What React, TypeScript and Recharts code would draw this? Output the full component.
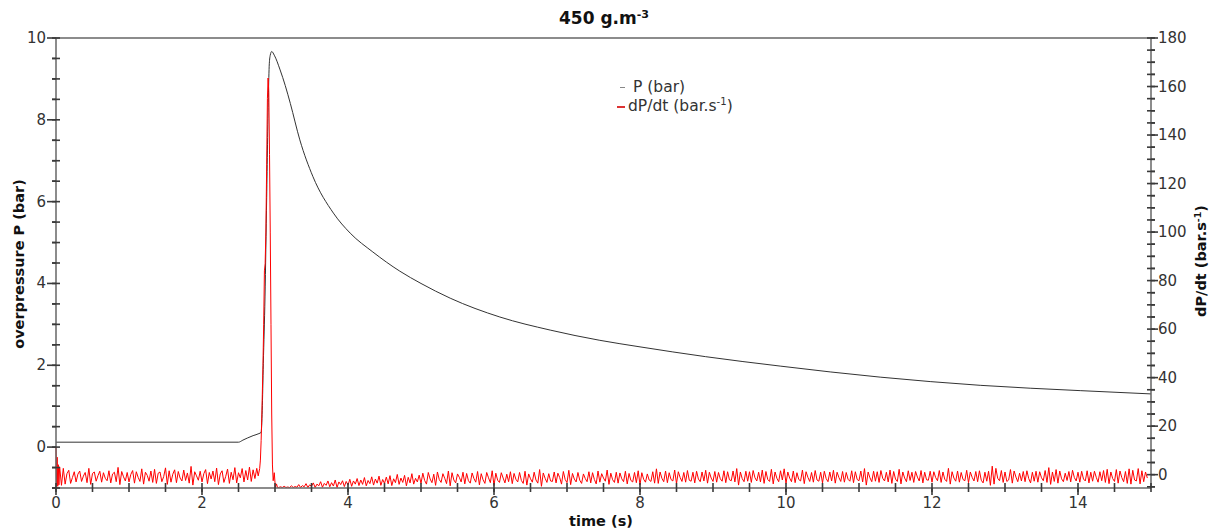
import { LineChart, Line, XAxis, YAxis, ReferenceLine, Legend } from 'recharts'

const FONT = '"DejaVu Sans", Verdana, sans-serif'
const AXIS = '#3a3a3a'
const TEXT = '#333'

// overpressure P (bar) against time (s)
const pTimes = [
  0, 2.5, 2.56, 2.62, 2.7, 2.78, 2.81, 2.825, 2.84, 2.863, 2.886, 2.909, 2.922, 2.935, 2.955, 2.99, 3.07,
  3.14, 3.21, 3.34, 3.52, 3.8, 4.03, 4.34, 4.71, 5.0, 5.4, 6.08, 6.77, 7.45, 8.0, 8.9, 9.92, 11.29, 12.66,
  14.03, 15,
]
const pValues = [
  0.12, 0.12, 0.17, 0.22, 0.28, 0.33, 0.36, 0.9, 2.04, 3.67, 6.1, 8.55, 9.37, 9.58, 9.67, 9.58, 9.22,
  8.84, 8.4, 7.51, 6.61, 5.72, 5.23, 4.77, 4.3, 4.0, 3.64, 3.18, 2.86, 2.61, 2.45, 2.21, 1.98, 1.71, 1.51,
  1.38, 1.3,
]

// dP/dt (bar/s): ignition transient at t=0
const startTimes = [0, 0.008, 0.016, 0.024, 0.032, 0.04]
const startValues = [11.4, -4.6, 7.2, -4.8, 4.1, -4.2]

// sampled baseline, every 0.025 s
const noiseStep = 0.025
const preNoiseStart = 0.05
const preNoise = [
  3.2, -4.4, 2.6, -3.9, 0.4, 1.8, -3.6, -1.2, 1.2, -3.0, 0.2, 1.5, -2.8, -0.6, 0.9, -3.3, 2.6, -4.0, 0.5, 1.1,
  -2.7, -0.4, 1.4, -3.1, 0.8, -1.5, -2.5, 1.6, -3.4, 0.3, 1.0, -2.9, 3.0, -4.1, 1.3, -0.9, -2.6, 0.9, -3.0, 0.1,
  1.7, -3.5, 1.2, -1.1, -2.8, 2.4, -3.9, 1.0, -0.3, -2.7, 1.5, -3.2, 2.2, -3.6, 0.6, 1.1, -2.9, -0.8, 2.8, -4.0,
  1.6, -3.1, 0.2, 2.0, -3.3, 1.3, -1.4, -2.6, 1.9, -2.4, 0.7, -3.5, 3.4, -4.3, 1.2, -0.5, -2.3, 1.4, -3.0, 0.4,
  2.1, -3.7, 0.9, -1.8, 1.5, -2.9, 2.7, -4.1, 0.3, 1.6, -3.2, -0.7, 2.3, -3.6, 1.0, -2.1, 2.9, -3.4, 0.8, -1.3,
  2.5, -3.0, 1.7, -2.2, 3.1, -2.8, 2.0, -1.6, 2.6,
]

// explosion peak
const spikeTimes = [
  2.77, 2.79, 2.8, 2.81, 2.82, 2.835, 2.845, 2.855, 2.865, 2.875, 2.886, 2.896, 2.905, 2.915, 2.925, 2.935,
  2.945, 2.955, 2.965, 2.975, 2.99, 3.005, 3.02, 3.035,
]
const spikeValues = [
  -0.5, 2.5, 6, 14, 25, 45, 62, 84, 87, 100, 128, 155, 163.5, 158, 132, 100,
  62, 25, 4, -2.5, 0.8, -5.3, -3.8, -5.3,
]

const postNoiseStart = 3.05
const postNoise = [
  // 3.05 - 4.0
  -5.3, -5.0, -5.3, -4.8, -5.3, -5.1, -5.3, -4.6, -5.3, -4.9, -5.2, -4.1, -5.3, -4.5, -5.0, -3.7, -5.3, -4.2, -4.8, -3.4,
  -5.3, -3.9, -4.6, -2.9, -5.2, -3.6, -4.4, -2.6, -5.0, -3.3, -4.7, -2.2, -5.3, -3.0, -4.1, -2.5, -4.9, -2.8,
  // 4.0 - 5.0
  -4.3, -1.9, -4.8, -2.6, -3.9, -1.6, -4.5, -2.2, -4.0, -1.2, -4.6, -2.4, -3.7, -0.9, -4.3, -1.8, -3.5, -0.6, -4.4, -2.0,
  -3.6, -1.0, -3.8, -0.4, -4.5, -1.7, -3.3, 0.1, -4.0, -1.4, -3.2, -0.3, -4.6, -1.1, -3.4, 0.4, -3.9, -1.5, -3.0, -0.2,
  // 5.0 - 6.0
  -3.6, 0.6, -2.4, -3.9, 0.9, -1.8, -3.3, 0.2, -4.4, 1.1, -2.0, -3.2, 0.4, -1.5, -3.7, 1.5, -4.6, 0.8, -2.2, -3.4,
  0.3, -1.1, -3.0, 1.0, -3.8, 0.5, -2.5, -3.5, 0.7, -1.6, -3.1, 1.3, -4.2, 0.4, -2.1, -3.6, 0.9, -1.3, -3.3, 1.6,
  // 6.0 - 7.0
  -4.5, 0.6, -2.3, -3.2, 0.8, -1.4, -3.4, 0.2, -2.9, 1.2, -3.7, 0.5, -1.9, -3.0, 0.9, -2.4, -3.6, 1.4, -4.3, 0.3,
  -1.7, -3.1, 1.0, -2.2, -3.5, 2.1, -4.8, 0.7, -1.5, -3.2, 0.4, -2.6, -2.8, 1.1, -3.4, 0.6, -1.2, -3.9, 1.3, -2.0,
  // 7.0 - 8.0
  -3.3, 1.8, -4.1, 0.5, -1.8, -3.0, 0.9, -2.3, -3.6, 0.3, -1.6, -2.9, 1.2, -3.4, 0.8, -2.0, -3.8, 1.5, -3.1, 0.4,
  -1.4, -2.7, 1.9, -4.0, 0.6, -2.1, -3.2, 1.0, -3.5, 0.7, -1.7, -2.9, 1.4, -3.8, 0.5, -2.4, -3.0, 0.9, -3.3, 1.6,
  // 8.0 - 9.0
  -4.2, 0.8, -1.9, -3.1, 0.3, -2.2, -2.8, 1.2, -3.5, 2.4, -3.6, 1.1, -1.5, -2.9, 1.5, -3.3, 0.8, -2.0, -2.6, 1.9,
  -3.7, 1.2, -1.2, -2.8, 0.9, -3.1, 1.7, -2.3, -2.7, 1.0, -3.4, 1.4, -1.8, -2.9, 1.1, -2.6, 1.8, -3.5, 1.0, -1.4,
  // 9.0 - 10.0
  -2.8, 1.3, -3.1, 0.9, -1.7, -2.7, 1.6, -3.3, 1.2, -2.1, -2.5, 1.5, -3.0, 2.5, -4.3, 1.1, -1.6, -2.9, 1.4, -2.7,
  1.2, -3.2, 1.7, -1.3, -2.6, 1.0, -3.0, 1.9, -3.6, 1.3, -2.0, -2.8, 2.2, -3.8, 1.1, -1.5, -2.9, 1.6, -2.2, 2.4,
  // 10.0 - 11.0
  -3.6, 1.1, -1.4, -2.9, 1.5, -3.3, 0.8, -2.0, -2.6, 1.9, -3.7, 1.2, -1.1, -2.8, 0.9, -3.1, 1.7, -2.2, -2.7, 1.0,
  -3.4, 1.4, -1.6, -2.9, 1.1, -2.6, 1.8, -3.5, 1.0, -1.2, -2.8, 1.3, -3.1, 0.9, -1.9, -2.7, 1.6, -3.3, 1.2, -2.0,
  // 11.0 - 12.0
  -2.5, 1.5, -3.0, 2.5, -4.3, 1.1, -1.3, -2.9, 1.4, -2.7, 1.2, -3.2, 1.7, -1.5, -2.6, 1.0, -3.0, 1.9, -3.6, 1.3,
  -1.8, -2.8, 2.2, -3.8, 1.1, -1.4, -2.9, 1.6, -2.4, 1.0, -3.2, 1.3, -1.0, -2.6, 1.7, -3.4, 1.0, -2.1, -2.3, 1.4,
  // 12.0 - 13.0
  -3.1, 1.2, -1.2, -2.5, 1.7, -3.2, 1.1, -1.9, -2.8, 2.6, -3.9, 1.2, -1.4, -2.7, 1.5, -3.1, 0.9, -2.0, -2.5, 1.8,
  -3.3, 1.1, -1.1, -2.6, 1.3, -2.9, 1.6, -2.3, -3.4, 1.0, -2.7, 1.4, -4.4, 3.5, -3.9, 2.6, -1.5, -2.5, 1.7, -3.2,
  // 13.0 - 14.0
  1.1, -2.8, -2.2, 2.1, -3.5, 1.5, -1.0, -2.9, 0.6, -2.6, 1.3, -2.9, 1.6, -1.6, -3.4, 1.0, -2.7, 1.4, -3.1, 1.2,
  -1.3, -2.5, 1.7, -3.2, 2.9, -4.0, 1.1, -2.8, 2.1, -3.5, 1.5, -1.7, -2.9, 0.6, -2.4, 1.3, -3.0, 1.8, -1.2, -2.6,
  // 14.0 - 15.0
  1.0, -3.1, 1.4, -1.8, -2.6, 1.6, -3.4, 1.0, -2.7, 1.4, -1.1, -3.1, 1.2, -2.5, 1.7, -3.2, 2.2, -3.7, 1.1, -1.6,
  -2.8, 2.1, -3.5, 1.5, -1.2, -2.9, 1.3, -3.6, 2.4, -3.9, 1.8, -2.2, -2.6, 2.5, -3.8, 1.6, -2.9, 1.1, -1.4,
]

const pData = pTimes.map((t, i) => ({ t, p: pValues[i] }))
const dpdtData = [
  ...startTimes.map((t, i) => ({ t, v: startValues[i] })),
  ...preNoise.map((v, i) => ({ t: preNoiseStart + i * noiseStep, v })),
  ...spikeTimes.map((t, i) => ({ t, v: spikeValues[i] })),
  ...postNoise.map((v, i) => ({ t: postNoiseStart + i * noiseStep, v })),
]

const steps = (from: number, to: number, step: number) =>
  Array.from({ length: Math.round((to - from) / step) + 1 }, (_, i) => +(from + i * step).toFixed(2))

const xTicks = steps(0, 15, 0.5)
const leftTicks = steps(-1, 10, 0.5)
const rightTicks = steps(-5, 180, 5)

// Recharts draws the outward tick marks (tickSize); the custom tick adds
// the inner half, the longer major marks and the labels.
const TICK = 4
const tickLine = { stroke: AXIS, strokeWidth: 1.6 }
const tickText = { fontFamily: FONT, fontSize: 15, fill: TEXT }

const renderXTick = (props: any) => {
  const { x, y, payload } = props
  const v = payload.value
  const major = Number.isInteger(v) && v % 2 === 0
  return (
    <g>
      <line x1={x} x2={x} y1={y - TICK - 5} y2={major ? y + 3 : y - TICK} {...tickLine} />
      {major && (
        <text x={x} y={y + 10.5} textAnchor="middle" dominantBaseline="central" {...tickText}>
          {v}
        </text>
      )}
    </g>
  )
}

const renderLeftTick = (props: any) => {
  const { x, y, payload } = props
  const v = payload.value
  const major = Number.isInteger(v) && v % 2 === 0 && v >= 0
  return (
    <g>
      <line x1={major ? x - 5 : x} x2={x + TICK + 4} y1={y} y2={y} {...tickLine} />
      {major && (
        <text x={x - 6} y={y} textAnchor="end" dominantBaseline="central" {...tickText}>
          {v}
        </text>
      )}
    </g>
  )
}

const renderRightTick = (props: any) => {
  const { x, y, payload } = props
  const v = payload.value
  const major = v % 20 === 0
  return (
    <g>
      <line x1={x - TICK - 4} x2={major ? x + 3 : x} y1={y} y2={y} {...tickLine} />
      {major && (
        <text x={x + 3} y={y} textAnchor="start" dominantBaseline="central" {...tickText}>
          {v}
        </text>
      )}
    </g>
  )
}

const sup = { fontSize: '0.65em', position: 'relative' as const, top: '-0.55em' }

const renderLegend = () => (
  <div style={{ fontFamily: FONT, fontSize: 15.5, color: TEXT, lineHeight: '19px', whiteSpace: 'nowrap' }}>
    <div style={{ display: 'flex', alignItems: 'center' }}>
      <span style={{ display: 'inline-block', width: 5, height: 1, background: '#888', marginLeft: 3, marginRight: 8 }} />
      P (bar)
    </div>
    <div style={{ display: 'flex', alignItems: 'center' }}>
      <span style={{ display: 'inline-block', width: 8, height: 1.5, background: '#d33', marginRight: 3 }} />
      <span>
        dP/dt (bar.s<span style={sup}>-1</span>)
      </span>
    </div>
  </div>
)

const label = (x: number, y: number, rotate = false): React.CSSProperties => ({
  position: 'absolute',
  left: x,
  top: y,
  transform: `translate(-50%, -50%)${rotate ? ' rotate(-90deg)' : ''}`,
  fontFamily: FONT,
  fontWeight: 'bold',
  fontSize: 14.5,
  color: '#111',
  whiteSpace: 'nowrap',
  pointerEvents: 'none',
})

export default function App() {
  return (
    <div style={{ position: 'absolute', left: 0, top: 0, width: 1212, height: 528 }}>
      <LineChart width={1212} height={528} margin={{ top: 38, right: 0, bottom: 0, left: 0 }}>
        <XAxis
          type="number"
          dataKey="t"
          domain={[0, 15]}
          ticks={xTicks}
          interval={0}
          height={40}
          tickSize={TICK}
          tickMargin={0}
          tickLine={tickLine}
          tick={renderXTick}
          axisLine={{ stroke: '#666', strokeWidth: 1.5 }}
        />
        <YAxis
          yAxisId="p"
          type="number"
          domain={[-1, 10]}
          ticks={leftTicks}
          interval={0}
          width={56}
          tickSize={TICK}
          tickMargin={0}
          tickLine={tickLine}
          tick={renderLeftTick}
          allowDataOverflow
          axisLine={{ stroke: '#666', strokeWidth: 1.5 }}
        />
        <YAxis
          yAxisId="d"
          orientation="right"
          type="number"
          domain={[-5.5, 180]}
          ticks={rightTicks}
          interval={0}
          width={61}
          tickSize={TICK}
          tickMargin={0}
          tickLine={tickLine}
          tick={renderRightTick}
          allowDataOverflow
          axisLine={{ stroke: '#666', strokeWidth: 1.5 }}
        />
        <ReferenceLine yAxisId="p" y={10} stroke="#666" strokeWidth={1.5} />
        <Legend
          layout="vertical"
          align="center"
          verticalAlign="middle"
          content={renderLegend}
          wrapperStyle={{ left: 617, top: 78, width: 'auto' }}
        />
        <Line
          yAxisId="p"
          data={pData}
          dataKey="p"
          type="monotone"
          stroke="#333"
          strokeWidth={1}
          dot={false}
          isAnimationActive={false}
        />
        <Line
          yAxisId="d"
          data={dpdtData}
          dataKey="v"
          type="linear"
          stroke="#ff0000"
          strokeWidth={1}
          dot={false}
          isAnimationActive={false}
        />
      </LineChart>
      <div style={{ ...label(604, 18), fontSize: 17 }}>
        450 g.m<span style={sup}>-3</span>
      </div>
      <div style={label(19, 264, true)}>overpressure P (bar)</div>
      <div style={label(1201, 261, true)}>
        dP/dt (bar.s<span style={sup}>-1</span>)
      </div>
      <div style={label(601, 521)}>time (s)</div>
    </div>
  )
}
